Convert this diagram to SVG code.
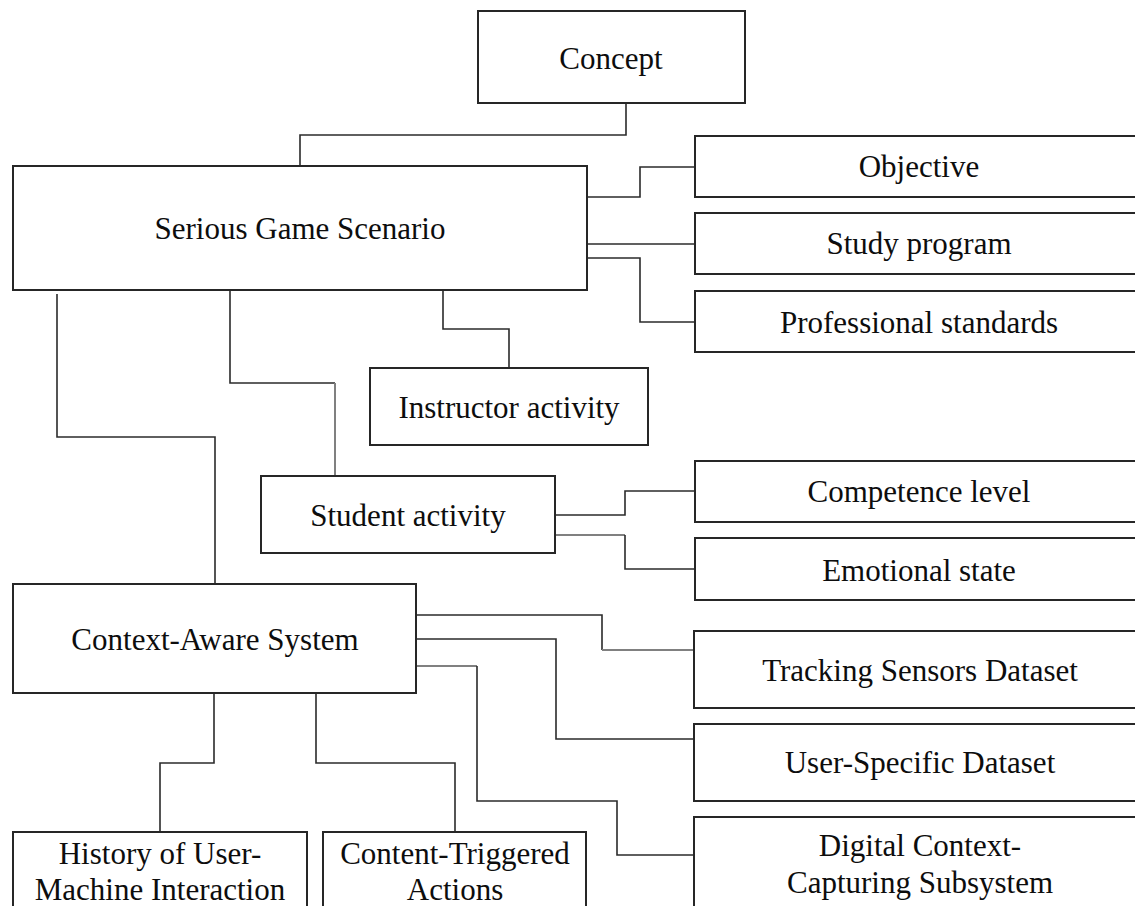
<svg xmlns="http://www.w3.org/2000/svg" width="1135" height="906" viewBox="0 0 1135 906">
<style>
.box{fill:#fff;stroke:#262626;stroke-width:2}
.lbl{font-family:"Liberation Serif","Times New Roman",serif;font-size:31px;fill:#0d0d0d;text-anchor:middle}
.c{fill:none;stroke:#2b2b2b;stroke-width:1.6}
.g{fill:none;stroke:#808080;stroke-width:2}
</style>
<rect width="1135" height="906" fill="#fff"/>
<g id="connectors">
<polyline class="c" points="626,103 626,135 300,135 300,166"/>
<polyline class="c" points="587,197 640,197 640,167 695,167"/>
<polyline class="c" points="587,244 695,244"/>
<polyline class="c" points="587,258 640,258 640,322 695,322"/>
<polyline class="c" points="57,294 57,437 215,437 215,584"/>
<polyline class="c" points="230,290 230,383 335,383"/>
<polyline class="g" points="335,383 335,476"/>
<polyline class="c" points="443,290 443,329 509,329 509,368"/>
<polyline class="c" points="555,515 625,515 625,491 695,491"/>
<polyline class="g" points="555,535 625,535"/>
<polyline class="c" points="625,535 625,569 695,569"/>
<polyline class="c" points="416,615 602,615 602,650"/>
<polyline class="g" points="602,650 694,650"/>
<polyline class="c" points="416,639 556,639 556,739 694,739"/>
<polyline class="g" points="416,666 477,666"/>
<polyline class="c" points="477,666 477,801 617,801 617,855 694,855"/>
<polyline class="c" points="214,693 214,763 160,763 160,832"/>
<polyline class="c" points="316,693 316,763 455,763 455,832"/>
</g>
<g id="concept"><rect class="box" x="478" y="11" width="267" height="92"/><text class="lbl" x="611" y="69">Concept</text></g>
<g id="serious-game-scenario"><rect class="box" x="13" y="166" width="574" height="124"/><text class="lbl" x="300" y="239">Serious Game Scenario</text></g>
<g id="objective"><rect class="box" x="695" y="136" width="460" height="61"/><text class="lbl" x="919" y="177">Objective</text></g>
<g id="study-program"><rect class="box" x="695" y="213" width="460" height="61"/><text class="lbl" x="919" y="254">Study program</text></g>
<g id="professional-standards"><rect class="box" x="695" y="291" width="460" height="61"/><text class="lbl" x="919" y="333">Professional standards</text></g>
<g id="instructor-activity"><rect class="box" x="370" y="368" width="278" height="77"/><text class="lbl" x="509" y="418">Instructor activity</text></g>
<g id="student-activity"><rect class="box" x="261" y="476" width="294" height="77"/><text class="lbl" x="408" y="526">Student activity</text></g>
<g id="competence-level"><rect class="box" x="695" y="461" width="460" height="61"/><text class="lbl" x="919" y="502">Competence level</text></g>
<g id="emotional-state"><rect class="box" x="695" y="538" width="460" height="62"/><text class="lbl" x="919" y="581">Emotional state</text></g>
<g id="context-aware-system"><rect class="box" x="13" y="584" width="403" height="109"/><text class="lbl" x="215" y="650">Context-Aware System</text></g>
<g id="tracking-sensors-dataset"><rect class="box" x="694" y="631" width="460" height="77"/><text class="lbl" x="920" y="681">Tracking Sensors Dataset</text></g>
<g id="user-specific-dataset"><rect class="box" x="694" y="724" width="460" height="77"/><text class="lbl" x="920" y="773">User-Specific Dataset</text></g>
<g id="digital-context-capturing-subsystem"><rect class="box" x="694" y="817" width="460" height="120"/><text class="lbl" x="920" y="856">Digital Context-</text><text class="lbl" x="920" y="893">Capturing Subsystem</text></g>
<g id="history-of-user-machine-interaction"><rect class="box" x="13" y="832" width="294" height="100"/><text class="lbl" x="160" y="864">History of User-</text><text class="lbl" x="160" y="900">Machine Interaction</text></g>
<g id="content-triggered-actions"><rect class="box" x="323" y="832" width="263" height="100"/><text class="lbl" x="455" y="864">Content-Triggered</text><text class="lbl" x="455" y="900">Actions</text></g>
</svg>
